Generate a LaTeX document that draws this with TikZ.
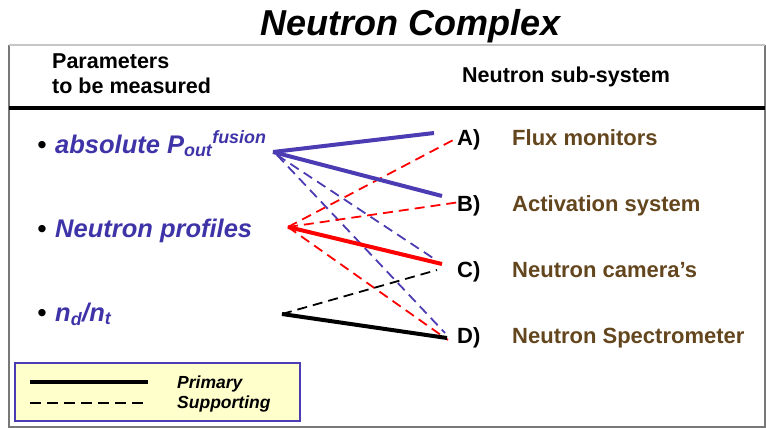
\documentclass[tikz,border=0pt]{standalone}
\usepackage{fontspec}
\setmainfont{Liberation Sans}
\definecolor{pblue}{RGB}{75,60,180}
\definecolor{tblue}{RGB}{62,52,168}
\definecolor{sysbrown}{RGB}{100,70,30}
\definecolor{legfill}{RGB}{255,255,204}
\definecolor{frame}{RGB}{120,120,120}
\begin{document}
\begin{tikzpicture}[x=1pt,y=-1pt,
  solidln/.style={line width=4pt},
  dashln/.style={line width=1.8pt, dash pattern=on 10pt off 6pt},
  hdr/.style={font=\fontsize{21.5}{24}\selectfont\bfseries, anchor=base west, inner sep=0pt},
  item/.style={font=\fontsize{25.5}{28}\selectfont\bfseries, anchor=base west, inner sep=0pt, text=tblue},
  bullet/.style={font=\fontsize{25.5}{28}\selectfont\bfseries, anchor=base, inner sep=0pt, text=black},
  letter/.style={font=\fontsize{22}{26}\selectfont\bfseries, anchor=base west, inner sep=0pt},
  sysname/.style={font=\fontsize{22}{26}\selectfont\bfseries, anchor=base west, inner sep=0pt, text=sysbrown},
  legtext/.style={font=\fontsize{17.5}{20}\selectfont\bfseries\itshape, anchor=base west, inner sep=0pt}]
\useasboundingbox (0,0) rectangle (766,428);
% title
\node[font=\fontsize{36}{40}\selectfont\bfseries\itshape, anchor=base, inner sep=0pt] (title) at (411,36) {Neutron Complex};
% frame
\draw[frame, line width=2pt] (9,45) -- (9,427) -- (765,427) -- (765,45);
\draw[gray!45, line width=1.5pt] (9,45) -- (765,45);
\draw[black, line width=3.5pt] (9,108) -- (765,108);
% headers
\node[hdr] (h1) at (52,69) {Parameters};
\node[hdr] (h2) at (52,93) {to be measured};
\node[hdr] (h3) at (462,83) {Neutron sub-system};
% parameter items
\node[bullet] (b1) at (42,153) {\textbullet};
\node[bullet] (b2) at (42,237) {\textbullet};
\node[bullet] (b3) at (42,321) {\textbullet};
\node[item] (p1) at (55,153) {\textit{absolute P\textsubscript{out}\textsuperscript{fusion}}};
\node[item] (p2) at (55,237) {\textit{Neutron profiles}};
\node[item] (p3) at (55,321) {\textit{n\textsubscript{d}/n\textsubscript{t}}};
% subsystem labels
\node[letter] (la) at (457,145) {A)};
\node[letter] (lb) at (457,211) {B)};
\node[letter] (lc) at (457,277) {C)};
\node[letter] (ld) at (457,343) {D)};
\node[sysname] (sa) at (512,145) {Flux monitors};
\node[sysname] (sb) at (512,211) {Activation system};
\node[sysname] (sc) at (512,277) {Neutron camera's};
\node[sysname] (sd) at (512,343) {Neutron Spectrometer};
% connector end points
\coordinate (po) at (273,152);
\coordinate (pod) at (277,155);
\coordinate (no) at (288,227);
\coordinate (nd) at (282,314);
\coordinate (a1) at (434,133);
\coordinate (b1e) at (442,196);
\coordinate (c1) at (433,258);
\coordinate (d1) at (445,333);
\coordinate (a2) at (457,138);
\coordinate (b2e) at (460,202);
\coordinate (c2) at (442,264);
\coordinate (d2) at (448,340);
\coordinate (c3) at (437,270);
\coordinate (d3) at (447,338);
% blue connectors
\draw[pblue, dashln] (pod) -- (c1);
\draw[pblue, dashln] (pod) -- (d1);
% red connectors
\draw[red, dashln] (no) -- (a2);
\draw[red, dashln] (no) -- (b2e);
\draw[red, dashln] (no) -- (d2);
% black connectors
\draw[black, dashln] (nd) -- (c3);
% solid
\draw[pblue, solidln] (po) -- (a1);
\draw[pblue, solidln] (po) -- (b1e);
\draw[red, solidln] (no) -- (c2);
\draw[black, solidln] (nd) -- (d3);
% legend
\draw[draw=pblue, fill=legfill, line width=1.2pt] (15,363) rectangle (300,421);
\coordinate (ls1) at (30,382);
\coordinate (le1) at (148,382);
\coordinate (ls2) at (30,403);
\coordinate (le2) at (148,403);
\draw[black, line width=4pt] (ls1) -- (le1);
\draw[black, line width=1.8pt, dash pattern=on 11pt off 6pt] (ls2) -- (le2);
\node[legtext] (lp) at (177,388) {Primary};
\node[legtext] (lsup) at (177,408) {Supporting};
\end{tikzpicture}
\end{document}
